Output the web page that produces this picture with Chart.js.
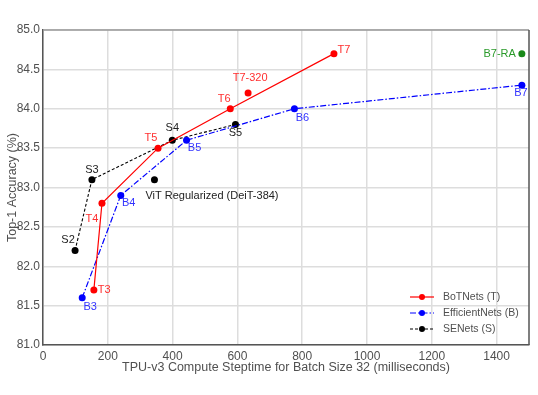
<!DOCTYPE html>
<html>
<head>
<meta charset="utf-8">
<script src="https://cdn.jsdelivr.net/npm/chart.js@4"></script>
<style>
  html, body { margin: 0; padding: 0; background: #fff; }
  #wrap { width: 538px; height: 395px; }
</style>
</head>
<body>
<div id="wrap"><canvas id="chart" width="538" height="395"></canvas></div>
<script>
const xTicks = [0, 200, 400, 600, 800, 1000, 1200, 1400];
const yTicks = [81.0, 81.5, 82.0, 82.5, 83.0, 83.5, 84.0, 84.5, 85.0];

const botNames = ["T3", "T4", "T5", "T6", "T7"];
const botTime = [157, 182, 355, 578, 898];
const botAcc = [81.7, 82.8, 83.5, 84.0, 84.7];

const effNames = ["B3", "B4", "B5", "B6", "B7"];
const effTime = [121, 240, 443, 776, 1478];
const effAcc = [81.6, 82.9, 83.6, 84.0, 84.3];

const seNames = ["S2", "S3", "S4", "S5"];
const seTime = [99, 151, 399, 594];
const seAcc = [82.2, 83.1, 83.6, 83.8];

const extraNames = ["T7-320", "B7-RA", "ViT Regularized (DeiT-384)"];
const extraTime = [633, 1478, 344];
const extraAcc = [84.2, 84.7, 83.1];

const palette = {
  red: "#ff0000",
  blue: "#0000ff",
  black: "#000000",
  green: "#1a8a1a",
  redText: "#ff3030",
  blueText: "#3333ff",
  greenText: "#2a9a2a",
  text: "#505050",
  grid: "#dddddd",
  axis: "#555555",
};

const FONT = '"Liberation Sans", Arial, sans-serif';

// label placement: [dx, dy, align]
const labelPos = {
  T3: [4, 0, "left"], T4: [-10, 16, "center"], T5: [-7, -10, "center"],
  T6: [-6, -10, "center"], T7: [10, -4, "center"], "T7-320": [2, -15, "center"],
  B3: [8, 9, "center"], B4: [8, 8, "center"], B5: [8, 8, "center"],
  B6: [8, 9, "center"], B7: [-1, 8, "center"], "B7-RA": [-6, 0, "right"],
  S2: [-7, -11, "center"], S3: [0, -10, "center"], S4: [0, -12, "center"],
  S5: [0, 8, "center"], "ViT Regularized (DeiT-384)": [-9, 16, "left"],
};

const pts = (xs, ys) => xs.map((x, i) => ({ x: x, y: ys[i] }));

Chart.defaults.font.family = FONT;
Chart.defaults.font.size = 12;
Chart.defaults.color = palette.text;

const datasets = [
  {
    label: "BoTNets (T)", names: botNames, labelColor: palette.redText,
    data: pts(botTime, botAcc), showLine: true, borderColor: palette.red,
    backgroundColor: palette.red, borderWidth: 1.2, pointRadius: 3.5, pointBorderWidth: 0,
  },
  {
    label: "EfficientNets (B)", names: effNames, labelColor: palette.blueText,
    data: pts(effTime, effAcc), showLine: true, borderColor: palette.blue,
    backgroundColor: palette.blue, borderWidth: 1.2, borderDash: [6, 2, 1.5, 2],
    pointRadius: 3.5, pointBorderWidth: 0,
  },
  {
    label: "SENets (S)", names: seNames, labelColor: "#222",
    data: pts(seTime, seAcc), showLine: true, borderColor: palette.black,
    backgroundColor: palette.black, borderWidth: 1.1, borderDash: [3, 2],
    pointRadius: 3.5, pointBorderWidth: 0,
  },
  {
    label: "T7-320", names: [extraNames[0]], labelColor: palette.redText, noLegend: true,
    data: pts([extraTime[0]], [extraAcc[0]]), showLine: false,
    backgroundColor: palette.red, borderColor: palette.red, pointRadius: 3.5, pointBorderWidth: 0,
  },
  {
    label: "B7-RA", names: [extraNames[1]], labelColor: palette.greenText, noLegend: true,
    data: pts([extraTime[1]], [extraAcc[1]]), showLine: false,
    backgroundColor: palette.green, borderColor: palette.green, pointRadius: 3.5, pointBorderWidth: 0,
  },
  {
    label: "ViT", names: [extraNames[2]], labelColor: "#222", noLegend: true,
    data: pts([extraTime[2]], [extraAcc[2]]), showLine: false,
    backgroundColor: palette.black, borderColor: palette.black, pointRadius: 3.5, pointBorderWidth: 0,
  },
];

const pointLabels = {
  id: "pointLabels",
  afterDatasetsDraw(chart) {
    const ctx = chart.ctx;
    ctx.save();
    ctx.font = "11px " + FONT;
    ctx.textBaseline = "middle";
    chart.data.datasets.forEach((ds, di) => {
      const meta = chart.getDatasetMeta(di);
      meta.data.forEach((el, i) => {
        const name = ds.names[i];
        const p = labelPos[name] || [0, -10, "center"];
        ctx.fillStyle = ds.labelColor;
        ctx.textAlign = p[2];
        ctx.fillText(name, el.x + p[0], el.y + p[1]);
      });
    });
    ctx.restore();
  },
};

const frameAndLegend = {
  id: "frameAndLegend",
  afterDraw(chart) {
    const ctx = chart.ctx;
    const a = chart.chartArea;
    ctx.save();
    ctx.lineWidth = 1.5;
    ctx.strokeStyle = "#999";
    ctx.beginPath();
    ctx.moveTo(a.left, a.top);
    ctx.lineTo(a.right, a.top);
    ctx.stroke();
    ctx.strokeStyle = palette.axis;
    ctx.beginPath();
    ctx.moveTo(a.right, a.top);
    ctx.lineTo(a.right, a.bottom);
    ctx.stroke();

    // legend, bottom right inside plot
    const items = chart.data.datasets.filter((d) => !d.noLegend);
    const x0 = a.right - 119;
    let y = a.bottom - 48;
    ctx.font = "10.5px " + FONT;
    ctx.textBaseline = "middle";
    ctx.textAlign = "left";
    items.forEach((d) => {
      ctx.strokeStyle = d.borderColor;
      ctx.lineWidth = d.borderWidth;
      ctx.setLineDash(d.borderDash || []);
      ctx.beginPath();
      ctx.moveTo(x0, y);
      ctx.lineTo(x0 + 24, y);
      ctx.stroke();
      ctx.setLineDash([]);
      ctx.fillStyle = d.backgroundColor;
      ctx.beginPath();
      ctx.arc(x0 + 12, y, 3, 0, Math.PI * 2);
      ctx.fill();
      ctx.fillStyle = palette.text;
      ctx.fillText(d.label, x0 + 33, y);
      y += 16;
    });
    ctx.restore();
  },
};

new Chart(document.getElementById("chart"), {
  type: "scatter",
  data: { datasets: datasets },
  options: {
    responsive: false,
    animation: false,
    layout: { padding: { top: 30, right: 9, left: 0, bottom: 0 } },
    plugins: { legend: { display: false }, tooltip: { enabled: false } },
    scales: {
      x: {
        type: "linear",
        min: 0,
        max: 1500,
        afterFit: (s) => { s.height = 50; },
        afterBuildTicks: (s) => { s.ticks = xTicks.map((v) => ({ value: v })); },
        grid: { color: palette.grid, lineWidth: 1.5, drawTicks: false },
        border: { color: palette.axis, width: 1.5 },
        ticks: { padding: 4, color: palette.text, font: { size: 12 }, callback: (v) => String(v) },
        title: {
          display: true,
          text: "TPU-v3 Compute Steptime for Batch Size 32 (milliseconds)",
          color: palette.text,
          font: { size: 12.5 },
          padding: { top: 0, bottom: 20 },
        },
      },
      y: {
        type: "linear",
        min: 81,
        max: 85,
        afterFit: (s) => { s.width = 43; },
        afterBuildTicks: (s) => { s.ticks = yTicks.map((v) => ({ value: v })); },
        grid: { color: palette.grid, lineWidth: 1.5, drawTicks: false },
        border: { color: palette.axis, width: 1.5 },
        ticks: {
          padding: 3,
          color: palette.text,
          font: { size: 12 },
          callback: (v) => Number(v).toFixed(1),
        },
        title: {
          display: true,
          text: "Top-1 Accuracy (%)",
          color: palette.text,
          font: { size: 12.5 },
          padding: { top: 5, bottom: 0 },
        },
      },
    },
  },
  plugins: [pointLabels, frameAndLegend],
});
</script>
</body>
</html>
